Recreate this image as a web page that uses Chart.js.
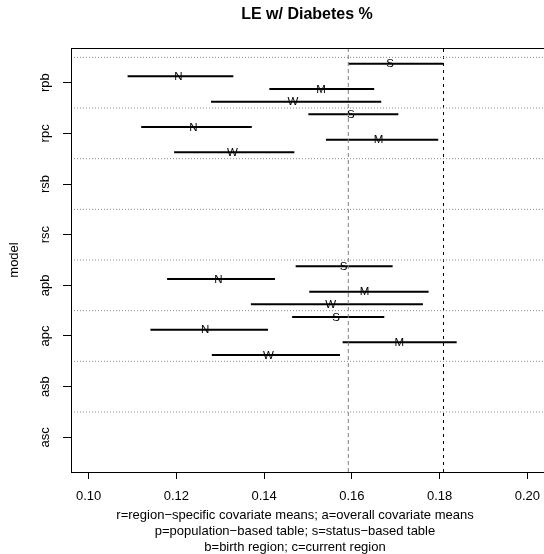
<!DOCTYPE html>
<html>
<head>
<meta charset="utf-8">
<title>LE w/ Diabetes %</title>
<script src="https://cdn.jsdelivr.net/npm/chart.js@4"></script>
<style>
  html, body { margin: 0; padding: 0; background: #fff; overflow: hidden; }
</style>
</head>
<body>
<canvas id="chart" width="544" height="554"></canvas>
<script>
// models, top to bottom
const models = ["rpb", "rpc", "rsb", "rsc", "apb", "apc", "asb", "asc"];
const groups = ["S", "N", "M", "W"];

// estimate / lower / upper per model (null = no estimate)
const sEst = [0.1687, 0.1598, null, null, 0.1581, 0.1564, null, null];
const sLo  = [0.1592, 0.1501, null, null, 0.1472, 0.1464, null, null];
const sHi  = [0.1809, 0.1706, null, null, 0.1693, 0.1674, null, null];

const nEst = [0.1205, 0.1239, null, null, 0.1296, 0.1266, null, null];
const nLo  = [0.1089, 0.1120, null, null, 0.1179, 0.1141, null, null];
const nHi  = [0.1330, 0.1372, null, null, 0.1425, 0.1409, null, null];

const mEst = [0.1530, 0.1661, null, null, 0.1629, 0.1708, null, null];
const mLo  = [0.1412, 0.1541, null, null, 0.1503, 0.1579, null, null];
const mHi  = [0.1651, 0.1797, null, null, 0.1775, 0.1839, null, null];

const wEst = [0.1466, 0.1328, null, null, 0.1552, 0.1410, null, null];
const wLo  = [0.1279, 0.1195, null, null, 0.1370, 0.1281, null, null];
const wHi  = [0.1667, 0.1469, null, null, 0.1762, 0.1573, null, null];

// reference lines (grey, black)
const refLines = [0.1592, 0.1809];

const xTicks = [0.10, 0.12, 0.14, 0.16, 0.18, 0.20];
const xlabLines = [
  "r=region\u2212specific covariate means; a=overall covariate means",
  "p=population\u2212based table; s=status\u2212based table",
  "b=birth region; c=current region"
];

const FONT = "'Liberation Sans', Arial, Helvetica, sans-serif";
Chart.defaults.font.family = FONT;
Chart.defaults.color = "#000";

const xMin = 0.096, xMax = 0.2038;
const yMin = 0.315, yMax = 8.685;
const nModels = models.length;

const series = {
  S: [sEst, sLo, sHi],
  N: [nEst, nLo, nHi],
  M: [mEst, mLo, mHi],
  W: [wEst, wLo, wHi]
};
const offsets = { S: 0.375, N: 0.125, M: -0.125, W: -0.375 };

const datasets = [];
const labelPts = [];

// dotted separators between models
for (let i = 0; i < nModels; i++) {
  const b = nModels - i + 0.5;
  datasets.push({
    data: [{ x: xMin, y: b }, { x: xMax, y: b }],
    borderColor: "#8c8c8c", borderWidth: 1, borderDash: [1, 2]
  });
}

// vertical reference lines
refLines.forEach((r, i) => {
  datasets.push({
    data: [{ x: r, y: yMin }, { x: r, y: yMax }],
    borderColor: i === 0 ? "#808080" : "#000",
    borderWidth: 1,
    borderDash: i === 0 ? [4, 3] : [3, 4]
  });
});

// interval segments
groups.forEach(g => {
  const [est, lo, hi] = series[g];
  for (let i = 0; i < nModels; i++) {
    if (est[i] === null) continue;
    const yv = nModels - i + offsets[g];
    datasets.push({
      data: [{ x: lo[i], y: yv }, { x: hi[i], y: yv }],
      borderColor: "#000", borderWidth: 2
    });
    labelPts.push({ x: est[i], y: yv, text: g });
  }
});

datasets.forEach(d => { d.showLine = true; d.pointRadius = 0; d.fill = false; });

const rText = {
  id: "rText",
  afterDatasetsDraw(chart) {
    const { ctx, chartArea: a, scales: { x, y } } = chart;
    ctx.save();
    ctx.font = "11.5px " + FONT;
    ctx.fillStyle = "#000";
    ctx.textAlign = "center";
    ctx.textBaseline = "middle";
    labelPts.forEach(p => {
      ctx.fillText(p.text, x.getPixelForValue(p.x), y.getPixelForValue(p.y) + 0.5);
    });
    // plot box
    ctx.strokeStyle = "#000";
    ctx.lineWidth = 1;
    ctx.strokeRect(a.left + 0.5, a.top + 0.5, a.right - a.left + 4, a.bottom - a.top);
    ctx.restore();
  },
  afterDraw(chart) {
    const { ctx } = chart;
    ctx.save();
    ctx.fillStyle = "#000";
    ctx.textAlign = "center";
    ctx.textBaseline = "middle";
    ctx.font = "bold 16px " + FONT;
    ctx.fillText("LE w/ Diabetes %", 307, 15);
    ctx.font = "13px " + FONT;
    xlabLines.forEach((t, i) => ctx.fillText(t, 295, 515 + i * 16));
    ctx.restore();
  }
};

new Chart(document.getElementById("chart"), {
  type: "scatter",
  data: { datasets },
  plugins: [rText],
  options: {
    responsive: false,
    animation: false,
    layout: { padding: { top: 48, left: 0, right: 0, bottom: 0 } },
    plugins: { legend: { display: false }, tooltip: { enabled: false } },
    scales: {
      x: {
        type: "linear", min: xMin, max: xMax,
        afterBuildTicks: s => { s.ticks = xTicks.map(v => ({ value: v })); },
        afterFit: s => { s.height = 82; s.paddingLeft = 0; s.paddingRight = 0; },
        grid: { drawOnChartArea: false, drawTicks: true, tickLength: 7, color: "#000" },
        border: { display: true, color: "#000" },
        ticks: { font: { size: 13 }, padding: 10, maxRotation: 0, autoSkip: false,
                 callback: v => Number(v).toFixed(2) }
      },
      y: {
        type: "linear", min: yMin, max: yMax,
        afterBuildTicks: s => { s.ticks = models.map((m, i) => ({ value: nModels - i })); },
        afterFit: s => { s.width = 71; s.paddingTop = 0; s.paddingBottom = 0; },
        grid: { drawOnChartArea: false, drawTicks: true, tickLength: 8, color: "#000" },
        border: { display: true, color: "#000" },
        title: { display: true, text: "model", font: { size: 13 }, padding: { top: 7, bottom: 0 } },
        ticks: { font: { size: 13 }, minRotation: 90, maxRotation: 90, crossAlign: "center",
                 padding: 7, autoSkip: false,
                 callback: v => models[nModels - Math.round(v)] }
      }
    }
  }
});
</script>
</body>
</html>
